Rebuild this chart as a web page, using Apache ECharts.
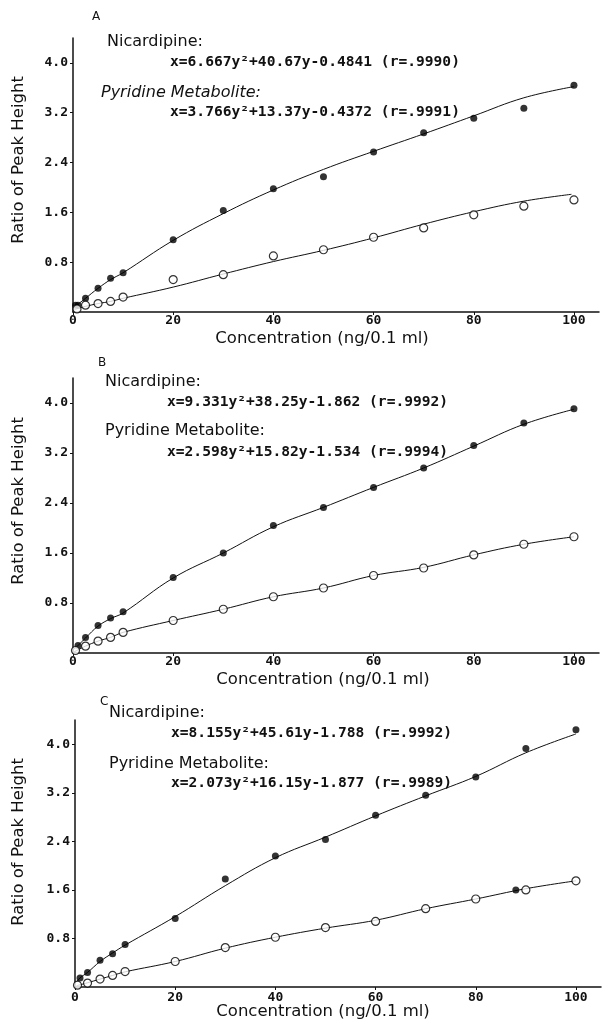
<!DOCTYPE html>
<html><head><meta charset="utf-8">
<script src="https://cdn.jsdelivr.net/npm/echarts@6/dist/echarts.min.js"></script>
<style>html,body{margin:0;padding:0;background:#fff}#c{width:602px;height:1025px}</style>
</head><body><div id="c"></div>
<script>
// ---- data ----
const xTickValues = [0, 20, 40, 60, 80, 100];
const yTickValues = [0.8, 1.6, 2.4, 3.2, 4.0];
const panelLetters = ['A', 'B', 'C'];
const nicLabel = 'Nicardipine:';
const metLabel = 'Pyridine Metabolite:';
const xTitle = 'Concentration (ng/0.1 ml)';
const yTitle = 'Ratio of Peak Height';
const nicEquations = [
  'x=6.667y²+40.67y-0.4841 (r=.9990)',
  'x=9.331y²+38.25y-1.862 (r=.9992)',
  'x=8.155y²+45.61y-1.788 (r=.9992)'
];
const metEquations = [
  'x=3.766y²+13.37y-0.4372 (r=.9991)',
  'x=2.598y²+15.82y-1.534 (r=.9994)',
  'x=2.073y²+16.15y-1.877 (r=.9989)'
];

// Panel A
const nicPointsA = [[0.5,0.11],[1,0.11],[2.5,0.22],[5,0.38],[7.5,0.54],[10,0.63],[20,1.16],[30,1.63],[40,1.98],[50,2.17],[60,2.57],[70,2.88],[80,3.11],[90,3.27],[100,3.64]];
const metPointsA = [[0.8,0.05],[2.5,0.11],[5,0.135],[7.5,0.17],[10,0.24],[20,0.52],[30,0.6],[40,0.9],[50,1.0],[60,1.2],[70,1.35],[80,1.56],[90,1.7],[100,1.8]];
const nicCurveA = [[0.3,0.08],[2.5,0.22],[5,0.38],[7.5,0.52],[10,0.63],[20,1.15],[30,1.58],[40,1.96],[50,2.29],[60,2.58],[70,2.86],[80,3.15],[90,3.44],[100,3.62]];
const metCurveA = [[0.3,0.04],[2.5,0.09],[5,0.135],[7.5,0.17],[10,0.22],[20,0.4],[30,0.61],[40,0.81],[50,0.99],[60,1.19],[70,1.41],[80,1.61],[90,1.78],[99.5,1.89]];

// Panel B
const nicPointsB = [[1,0.12],[2.5,0.25],[5,0.44],[7.5,0.56],[10,0.66],[20,1.21],[30,1.6],[40,2.04],[50,2.33],[60,2.65],[70,2.96],[80,3.32],[90,3.68],[100,3.91]];
const metPointsB = [[0.5,0.04],[2.5,0.11],[5,0.19],[7.5,0.25],[10,0.33],[20,0.52],[30,0.7],[40,0.9],[50,1.04],[60,1.24],[70,1.36],[80,1.57],[90,1.74],[100,1.86]];
const nicCurveB = [[0,0.05],[1,0.12],[2.5,0.24],[5,0.43],[7.5,0.55],[10,0.64],[20,1.2],[30,1.6],[40,2.02],[50,2.33],[60,2.65],[70,2.96],[80,3.31],[90,3.66],[100,3.9]];
const metCurveB = [[0,0.01],[1,0.05],[2.5,0.11],[5,0.19],[7.5,0.25],[10,0.33],[20,0.52],[30,0.7],[40,0.9],[50,1.04],[60,1.24],[70,1.37],[80,1.57],[90,1.74],[100,1.86]];

// Panel C
const nicPointsC = [[1,0.15],[2.5,0.24],[5,0.44],[7.5,0.55],[10,0.7],[20,1.13],[30,1.78],[40,2.16],[50,2.43],[60,2.83],[70,3.16],[80,3.46],[90,3.93],[100,4.24],[88,1.6]];
const metPointsC = [[0.5,0.03],[2.5,0.065],[5,0.13],[7.5,0.19],[10,0.255],[20,0.42],[30,0.65],[40,0.82],[50,0.98],[60,1.08],[70,1.29],[80,1.45],[90,1.6],[100,1.75]];
const nicCurveC = [[0.3,0.08],[1,0.15],[2.5,0.24],[5,0.42],[7.5,0.56],[10,0.69],[20,1.16],[30,1.67],[40,2.13],[50,2.47],[60,2.82],[70,3.15],[80,3.47],[90,3.86],[100,4.17]];
const metCurveC = [[0.3,0.02],[2.5,0.07],[5,0.13],[7.5,0.19],[10,0.25],[20,0.42],[30,0.64],[40,0.82],[50,0.97],[60,1.1],[70,1.29],[80,1.45],[90,1.62],[100,1.75]];

// ---- layout ----
const grids = [
  {left: 73, top: 38, width: 526, height: 274},
  {left: 73, top: 378, width: 526, height: 275},
  {left: 75, top: 720, width: 526, height: 267}
];
const textPos = [
  {letter:[92,17], nic:[107,42], nicEq:[170,62], met:[101,93], metEq:[170,112], metItalic:true, xt:[322,339], yt:[19,160]},
  {letter:[98,363], nic:[105,382], nicEq:[167,402], met:[105,431], metEq:[167,452], metItalic:false, xt:[323,680], yt:[19,501]},
  {letter:[100,702], nic:[109,713], nicEq:[171,733], met:[109,764], metEq:[171,783], metItalic:false, xt:[323,1012], yt:[19,842]}
];
const curves = [[nicCurveA, metCurveA],[nicCurveB, metCurveB],[nicCurveC, metCurveC]];
const points = [[nicPointsA, metPointsA],[nicPointsB, metPointsB],[nicPointsC, metPointsC]];

const INK = '#111';
const mono = '"DejaVu Sans Mono", monospace';
const sans = '"DejaVu Sans", sans-serif';

const xAxes = [], yAxes = [], series = [], graphics = [];
grids.forEach((g, i) => {
  xAxes.push({
    gridIndex: i, type: 'value', min: 0, max: 105,
    axisLine: {lineStyle: {color: INK, width: 1.5}},
    axisTick: {customValues: xTickValues, length: 3, lineStyle: {color: INK}},
    axisLabel: {customValues: xTickValues, color: INK, fontFamily: mono, fontWeight: 'bold', fontSize: 13, margin: i === 2 ? 4 : 2},
    splitLine: {show: false}
  });
  yAxes.push({
    gridIndex: i, type: 'value', min: 0, max: 4.4,
    axisLine: {show: true, lineStyle: {color: INK, width: 1.5}},
    axisTick: {show: true, customValues: yTickValues, length: 3, lineStyle: {color: INK}},
    axisLabel: {customValues: yTickValues, color: INK, fontFamily: mono, fontWeight: 'bold', fontSize: 13, margin: 5,
      formatter: v => v.toFixed(1)},
    splitLine: {show: false}
  });
  curves[i].forEach(c => series.push({
    type: 'line', xAxisIndex: i, yAxisIndex: i, data: c, smooth: 0.4, symbol: 'none',
    lineStyle: {color: INK, width: 1}, z: 2, silent: true
  }));
  series.push({
    type: 'scatter', xAxisIndex: i, yAxisIndex: i, data: points[i][0], symbol: 'circle', symbolSize: 7,
    itemStyle: {color: '#000'}, z: 4
  });
  series.push({
    type: 'scatter', xAxisIndex: i, yAxisIndex: i, data: points[i][1], symbol: 'circle', symbolSize: 8,
    itemStyle: {color: '#fff', borderColor: '#000', borderWidth: 1.2}, z: 5
  });
  const t = textPos[i];
  const txt = (pos, s, font) => graphics.push({
    type: 'text', x: pos[0], y: pos[1], z: 10,
    style: {text: s, font: font, fill: INK, align: 'left', verticalAlign: 'middle'}
  });
  txt(t.letter, panelLetters[i], '12px ' + sans);
  txt(t.nic, nicLabel, '16px ' + sans);
  txt(t.nicEq, nicEquations[i], 'bold 14.6px ' + mono);
  txt(t.met, metLabel, (t.metItalic ? 'italic ' : '') + '16px ' + sans);
  txt(t.metEq, metEquations[i], 'bold 14.6px ' + mono);
  graphics.push({type: 'text', x: t.xt[0], y: t.xt[1], z: 10,
    style: {text: xTitle, font: '16.5px ' + sans, fill: INK, align: 'center', verticalAlign: 'middle'}});
  graphics.push({type: 'text', x: t.yt[0], y: t.yt[1], rotation: Math.PI / 2, z: 10,
    style: {text: yTitle, font: '16.5px ' + sans, fill: INK, align: 'center', verticalAlign: 'middle'}});
});

const chart = echarts.init(document.getElementById('c'), null, {renderer: 'canvas'});
chart.setOption({
  animation: false,
  backgroundColor: '#fff',
  grid: grids,
  xAxis: xAxes,
  yAxis: yAxes,
  series: series,
  graphic: graphics
});
</script>
</body></html>
